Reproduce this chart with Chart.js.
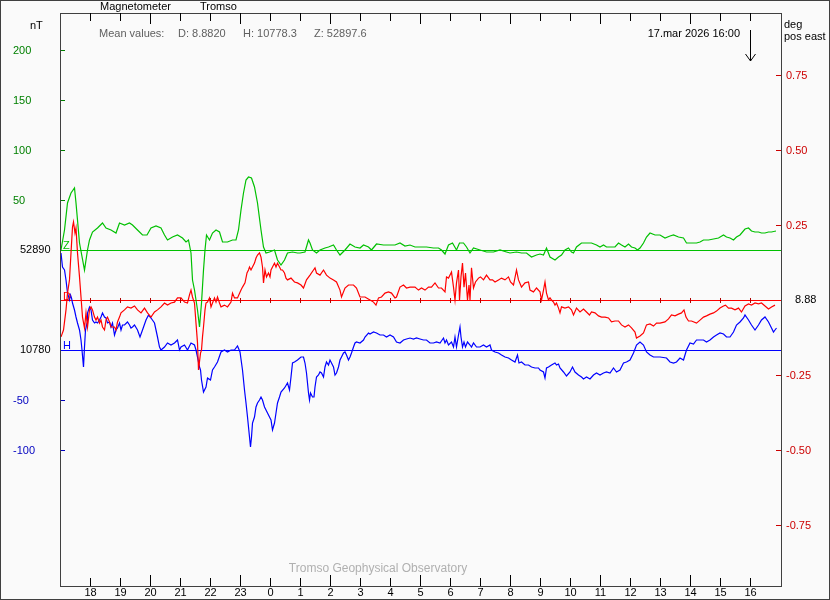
<!DOCTYPE html>
<html>
<head>
<meta charset="utf-8">
<script src="https://cdn.jsdelivr.net/npm/chart.js@4.4.1/dist/chart.umd.min.js"></script>
<style>
  html, body { margin: 0; padding: 0; background: #fafafa; }
  canvas { display: block; }
</style>
</head>
<body>
<canvas id="mag" width="830" height="600"></canvas>
<script>
// --- data: time = minutes after 16 Mar 17:00, Z/H = nT from baseline, D = deg from baseline ---
const zTime = [
  2, 9, 15, 22, 29, 32, 35, 39, 49, 55,
  59, 65, 75, 85, 92, 102, 112, 119, 129, 139,
  145, 155, 165, 174, 182, 192, 202, 209, 215, 225,
  235, 245, 252, 257, 262, 265, 269, 275, 279, 283,
  287, 290, 293, 299, 305, 312, 319, 325, 335, 345,
  352, 357, 362, 367, 372, 377, 383, 389, 395, 402,
  407, 412, 419, 429, 435, 442, 449, 455, 465, 475,
  480, 490, 497, 500, 505, 513, 520, 530, 537, 547,
  553, 560, 570, 580, 590, 600, 607, 617, 623, 633,
  647, 660, 670, 680, 690, 700, 710, 720, 733, 747,
  757, 763, 770, 777, 785, 793, 799, 807, 813, 820,
  827, 840, 853, 867, 880, 893, 900, 913, 923, 933,
  943, 953, 960, 967, 973, 980, 990, 997, 1003, 1010,
  1017, 1023, 1027, 1033, 1043, 1053, 1063, 1073, 1080, 1087,
  1093, 1103, 1110, 1117, 1123, 1130, 1137, 1143, 1150, 1155,
  1160, 1167, 1173, 1180, 1190, 1200, 1210, 1220, 1227, 1237,
  1247, 1253, 1263, 1273, 1280, 1287, 1297, 1307, 1317, 1327,
  1333, 1340, 1347, 1353, 1360, 1370, 1377, 1383, 1390, 1397,
  1403, 1410, 1417, 1423, 1432
];
const zVal = [
  0, 20, 47, 57, 62, 47, 30, 7, -20, 0,
  10, 18, 22, 27, 22, 20, 17, 27, 25, 27,
  25, 20, 15, 15, 22, 24, 22, 15, 10, 13,
  15, 12, 8, 10, -3, -30, -40, -60, -77, -53,
  -20, 0, 15, 10, 17, 20, 18, 8, 8, 10,
  10, 20, 40, 57, 70, 73, 72, 63, 47, 20,
  3, -3, -2, 0, -10, -15, -10, -3, -2, -3,
  -3, -2, 10, 7, 0, -3, 0, 2, 3, 5,
  0, -5, 0, 6, 3, 2, 5, 3, 0, 6,
  5, 5, 5, 7, 4, 5, 3, 3, 3, 2,
  2, 0, -4, 5, 7, 0, 7, 7, 3, -3,
  2, 0, -2, -2, 0, -2, -3, -2, -3, -3,
  -7, -5, -4, -5, 2, -7, -10, -7, -5, 0,
  2, -2, -3, 3, 7, 7, 7, 5, 3, 5,
  3, 3, 3, 7, 5, 3, 6, 3, 2, 0,
  2, 7, 13, 17, 15, 15, 12, 14, 15, 13,
  12, 7, 7, 7, 8, 10, 10, 11, 12, 15,
  13, 12, 10, 13, 15, 21, 22, 19, 18, 18,
  17, 17, 18, 18, 19
];

const dTime = [
  2, 7, 12, 15, 19, 22, 25, 27, 30, 32,
  35, 39, 42, 45, 49, 52, 55, 59, 62, 65,
  69, 72, 75, 79, 82, 85, 89, 92, 95, 99,
  102, 109, 112, 115, 119, 122, 129, 135, 142, 149,
  155, 162, 169, 175, 182, 189, 195, 202, 209, 215,
  222, 229, 235, 242, 249, 255, 259, 262, 265, 269,
  272, 275, 277, 281, 283, 285, 287, 290, 292, 295,
  299, 302, 305, 309, 312, 315, 319, 322, 329, 335,
  342, 345, 349, 355, 362, 365, 370, 374, 377, 379,
  382, 385, 389, 392, 395, 399, 402, 405, 407, 410,
  413, 417, 420, 422, 425, 429, 432, 435, 439, 442,
  445, 449, 452, 455, 462, 469, 475, 482, 487, 493,
  500, 507, 510, 513, 520, 527, 533, 540, 547, 553,
  560, 563, 570, 577, 587, 593, 600, 610, 620, 627,
  632, 637, 643, 650, 657, 663, 670, 673, 680, 687,
  693, 700, 710, 717, 723, 730, 737, 743, 750, 757,
  763, 770, 773, 777, 783, 787, 790, 793, 797, 799,
  802, 805, 808, 811, 815, 818, 820, 823, 827, 831,
  837, 841, 847, 853, 860, 865, 870, 877, 883, 890,
  897, 901, 907, 913, 917, 923, 930, 937, 940, 947,
  953, 960, 963, 967, 970, 973, 977, 980, 983, 987,
  990, 993, 997, 1000, 1003, 1010, 1017, 1023, 1027, 1033,
  1040, 1047, 1053, 1059, 1063, 1070, 1077, 1083, 1090, 1097,
  1103, 1110, 1117, 1123, 1130, 1137, 1143, 1150, 1153, 1160,
  1167, 1173, 1180, 1187, 1193, 1200, 1210, 1217, 1223, 1230,
  1237, 1243, 1248, 1252, 1257, 1263, 1273, 1280, 1287, 1293,
  1300, 1307, 1313, 1320, 1327, 1331, 1337, 1343, 1350, 1357,
  1363, 1370, 1377, 1383, 1390, 1397, 1403, 1410, 1417, 1423,
  1430
];
const dVal = [
  -0.123, -0.100, -0.033, 0.023, 0.067, 0.157, 0.243, 0.260, 0.223, 0.240,
  0.157, 0.077, 0.010, -0.057, -0.093, -0.043, -0.090, -0.033, -0.023, -0.033,
  -0.057, -0.067, -0.057, -0.077, -0.067, -0.090, -0.100, -0.067, -0.057, -0.073,
  -0.090, -0.090, -0.100, -0.073, -0.057, -0.043, -0.033, -0.023, -0.027, -0.020,
  -0.033, -0.043, -0.027, -0.043, -0.057, -0.040, -0.033, -0.023, -0.010, -0.017,
  -0.010, -0.007, 0.007, 0.007, -0.007, -0.010, 0.017, 0.033, 0.010, -0.010,
  -0.077, -0.143, -0.233, -0.177, -0.167, -0.123, -0.090, -0.033, -0.010, -0.007,
  0.007, -0.023, -0.010, 0.007, -0.007, 0.010, -0.010, -0.023, -0.017, -0.023,
  -0.007, 0.023, 0.007, 0.007, 0.033, 0.043, 0.057, 0.090, 0.100, 0.110,
  0.100, 0.110, 0.123, 0.140, 0.150, 0.157, 0.143, 0.110, 0.057, 0.100,
  0.077, 0.090, 0.077, 0.100, 0.110, 0.123, 0.110, 0.123, 0.110, 0.100,
  0.100, 0.090, 0.073, 0.067, 0.073, 0.060, 0.057, 0.050, 0.040, 0.067,
  0.083, 0.100, 0.107, 0.090, 0.083, 0.100, 0.083, 0.073, 0.067, 0.060,
  0.033, 0.010, 0.040, 0.050, 0.050, 0.040, 0.010, 0.010, 0.000, -0.007,
  -0.017, 0.007, 0.010, 0.023, 0.027, 0.023, 0.007, 0.010, 0.043, 0.050,
  0.040, 0.043, 0.043, 0.033, 0.040, 0.033, 0.043, 0.043, 0.057, 0.040,
  0.040, 0.027, 0.077, 0.073, 0.093, 0.043, 0.000, 0.057, 0.100, 0.000,
  0.077, 0.123, 0.043, 0.090, 0.000, 0.050, 0.000, 0.107, 0.040, 0.060,
  0.073, 0.077, 0.067, 0.083, 0.067, 0.067, 0.060, 0.067, 0.073, 0.067,
  0.077, 0.060, 0.050, 0.100, 0.067, 0.043, 0.057, 0.060, 0.033, 0.027,
  0.040, 0.027, 0.000, 0.033, 0.060, 0.023, 0.000, 0.007, 0.000, -0.007,
  -0.017, -0.010, -0.027, -0.043, -0.023, -0.027, -0.023, -0.033, -0.050, -0.027,
  -0.040, -0.030, -0.040, -0.050, -0.040, -0.043, -0.053, -0.057, -0.057, -0.060,
  -0.073, -0.070, -0.070, -0.083, -0.090, -0.083, -0.093, -0.107, -0.127, -0.120,
  -0.110, -0.083, -0.080, -0.087, -0.077, -0.077, -0.073, -0.063, -0.050, -0.053,
  -0.047, -0.043, -0.033, -0.057, -0.070, -0.070, -0.077, -0.067, -0.057, -0.053,
  -0.047, -0.043, -0.037, -0.027, -0.020, -0.017, -0.027, -0.027, -0.033, -0.027,
  -0.040, -0.020, -0.013, -0.017, -0.010, -0.013, -0.010, -0.020, -0.030, -0.023,
  -0.017
];

const hTime = [
  2, 5, 9, 12, 15, 19, 21, 23, 25, 29,
  32, 35, 39, 42, 44, 47, 49, 51, 54, 55,
  59, 62, 65, 69, 72, 75, 79, 82, 85, 89,
  92, 95, 99, 102, 105, 109, 112, 115, 119, 122,
  125, 129, 135, 139, 142, 145, 149, 155, 160, 165,
  172, 177, 182, 189, 192, 195, 199, 202, 209, 215,
  222, 229, 235, 239, 242, 249, 255, 262, 269, 272,
  275, 279, 281, 283, 287, 292, 295, 301, 305, 309,
  315, 322, 329, 335, 342, 349, 355, 360, 365, 369,
  372, 375, 379, 381, 383, 385, 389, 392, 395, 399,
  402, 405, 409, 412, 415, 419, 422, 425, 429, 432,
  435, 439, 442, 449, 455, 459, 462, 465, 469, 475,
  482, 487, 490, 493, 497, 499, 501, 505, 508, 510,
  513, 517, 520, 523, 527, 530, 533, 537, 540, 543,
  547, 550, 553, 557, 560, 563, 567, 570, 573, 577,
  580, 583, 587, 590, 593, 600, 607, 610, 617, 620,
  627, 633, 640, 647, 653, 660, 667, 673, 680, 687,
  693, 700, 707, 713, 720, 727, 733, 740, 747, 753,
  760, 767, 770, 773, 777, 783, 787, 790, 793, 797,
  800, 802, 805, 808, 811, 815, 820, 823, 827, 833,
  840, 847, 853, 860, 863, 870, 877, 883, 890, 897,
  903, 910, 915, 918, 923, 930, 937, 943, 950, 957,
  960, 967, 970, 973, 977, 983, 990, 993, 997, 1000,
  1007, 1013, 1020, 1025, 1030, 1037, 1043, 1047, 1053, 1060,
  1067, 1073, 1080, 1087, 1093, 1100, 1107, 1113, 1120, 1127,
  1133, 1140, 1147, 1153, 1160, 1167, 1173, 1180, 1187, 1200,
  1213, 1220, 1227, 1233, 1240, 1247, 1250, 1253, 1260, 1267,
  1273, 1287, 1293, 1300, 1307, 1313, 1320, 1327, 1333, 1340,
  1347, 1353, 1360, 1367, 1370, 1377, 1383, 1390, 1397, 1403,
  1410, 1417, 1423, 1427, 1430, 1433
];
const hVal = [
  97, 83, 80, 70, 57, 50, 55, 52, 47, 40,
  33, 27, 20, 10, 0, -17, 3, 20, 27, 37,
  43, 40, 30, 27, 28, 27, 30, 33, 37, 33,
  32, 27, 28, 23, 27, 15, 20, 22, 27, 20,
  25, 25, 28, 25, 22, 23, 25, 20, 13, 20,
  30, 35, 32, 27, 20, 13, 3, 0, 3, 7,
  5, 7, 10, 0, 3, 5, 0, 7, 5, 0,
  -7, -17, -20, -30, -42, -37, -28, -30, -20, -17,
  -12, -2, 0, -2, 0, 0, 4, -2, -20, -40,
  -53, -67, -87, -97, -87, -73, -67, -57, -53, -50,
  -47, -50, -57, -60, -63, -67, -70, -80, -73, -63,
  -53, -47, -42, -38, -33, -40, -27, -13, -12, -10,
  -7, -7, -13, -23, -43, -50, -43, -47, -47, -37,
  -27, -25, -22, -23, -27, -17, -12, -15, -10, -13,
  -17, -25, -23, -17, -10, -7, -3, -2, -5, -10,
  -7, -3, 3, 7, 8, 7, 10, 13, 17, 16,
  18, 17, 15, 15, 13, 15, 13, 8, 7, 10,
  11, 12, 11, 12, 11, 10, 10, 7, 7, 8,
  7, 12, 7, 10, 5, 8, 3, 13, 3, 15,
  23, 13, 3, 8, 3, 8, 5, 3, 7, 3,
  3, 5, 3, 5, 0, -2, -3, -5, -7, -8,
  -10, -12, -5, -13, -12, -15, -15, -17, -18, -18,
  -20, -22, -28, -18, -17, -15, -13, -15, -14, -18,
  -22, -26, -22, -17, -22, -25, -27, -29, -27, -29,
  -25, -23, -25, -23, -22, -23, -18, -22, -20, -13,
  -12, -10, -3, 5, 8, 5, -2, -5, -7, -7,
  -8, -12, -13, -12, -8, -10, -5, 0, 7, 6,
  10, 10, 8, 10, 13, 15, 17, 16, 13, 13,
  18, 25, 28, 32, 35, 30, 25, 20, 25, 30,
  33, 28, 22, 18, 20, 22
];

// axis ticks / labels
const hourTicks  = [60, 120, 180, 240, 300, 360, 420, 480, 540, 600, 660, 720, 780, 840, 900, 960, 1020, 1080, 1140, 1200, 1260, 1320, 1380];
const hourLabels = ['18', '19', '20', '21', '22', '23', '0', '1', '2', '3', '4', '5', '6', '7', '8', '9', '10', '11', '12', '13', '14', '15', '16'];
const longHours  = ['20', '23', '2', '5', '8', '11', '14'];
const zTicks = [200, 150, 100, 50];
const hTicks = [-50, -100];
const dTicks = [0.75, 0.50, 0.25, -0.25, -0.50, -0.75];
const zBaseLabel = '52890';
const hBaseLabel = '10780';
const dBaseLabel = '8.88';

const FONT = '11px "Liberation Sans", Arial, sans-serif';
const GREEN = '#00c000', RED = '#ff0000', BLUE = '#0000ff';

const toPoints = (t, v) => t.map((m, i) => ({ x: m, y: v[i] }));

function txt(c, s, x, y, color, align) {
    c.fillStyle = color;
    c.textAlign = align || 'left';
    c.textBaseline = 'middle';
    c.fillText(s, x, y);
}

const magPlugin = {
    id: 'magFrame',
    beforeDraw(chart) {
        const c = chart.ctx;
        c.save();
        c.fillStyle = '#fafafa';
        c.fillRect(0, 0, chart.width, chart.height);
        c.restore();
    },
    beforeDatasetsDraw(chart) {
        const { ctx: c, chartArea: a, scales: s } = chart;
        c.save();
        c.lineWidth = 1;
        // baselines
        [['yZ', GREEN], ['yD', RED], ['yH', BLUE]].forEach(([id, col]) => {
            const y = Math.round(s[id].getPixelForValue(0)) + 0.5;
            c.strokeStyle = col;
            c.beginPath(); c.moveTo(a.left, y); c.lineTo(a.right, y); c.stroke();
        });
        // hour marks on the D baseline
        const yd = Math.round(s.yD.getPixelForValue(0));
        c.strokeStyle = '#b00000';
        hourTicks.forEach(m => {
            const x = Math.round(s.x.getPixelForValue(m)) + 0.5;
            c.beginPath(); c.moveTo(x, yd - 2); c.lineTo(x, yd + 3); c.stroke();
        });
        c.restore();
    },
    afterDraw(chart) {
        const { ctx: c, chartArea: a, scales: s } = chart;
        c.save();
        c.lineWidth = 1;
        c.font = FONT;

        // outer border + plot frame
        c.strokeStyle = '#404040';
        c.strokeRect(0.5, 0.5, chart.width - 1, chart.height - 1);
        c.strokeRect(a.left - 0.5, a.top + 0.5, a.right - a.left + 1, a.bottom - a.top);

        // time ticks top and bottom
        c.strokeStyle = '#000';
        hourTicks.forEach((m, i) => {
            const x = Math.round(s.x.getPixelForValue(m)) + 0.5;
            const len = longHours.includes(hourLabels[i]) ? 11 : 8;
            c.beginPath();
            c.moveTo(x, a.top); c.lineTo(x, a.top + len);
            c.moveTo(x, a.bottom); c.lineTo(x, a.bottom - len);
            c.stroke();
            txt(c, hourLabels[i], x, a.bottom + 7, '#000', 'center');
        });

        // left axis: Z (green) and H (blue)
        zTicks.forEach(v => {
            const y = Math.round(s.yZ.getPixelForValue(v)) + 0.5;
            c.strokeStyle = '#008000';
            c.beginPath(); c.moveTo(a.left, y); c.lineTo(a.left + 4, y); c.stroke();
            txt(c, String(v), 13, y, '#008000');
        });
        hTicks.forEach(v => {
            const y = Math.round(s.yH.getPixelForValue(v)) + 0.5;
            c.strokeStyle = '#0000c0';
            c.beginPath(); c.moveTo(a.left, y); c.lineTo(a.left + 4, y); c.stroke();
            txt(c, String(v), 13, y, '#0000c0');
        });
        txt(c, zBaseLabel, 20, s.yZ.getPixelForValue(0), '#000');
        txt(c, hBaseLabel, 20, s.yH.getPixelForValue(0), '#000');

        // right axis: D (red)
        dTicks.forEach(v => {
            const y = Math.round(s.yD.getPixelForValue(v)) + 0.5;
            c.strokeStyle = '#cc0000';
            c.beginPath(); c.moveTo(a.right - 5, y); c.lineTo(a.right, y); c.stroke();
            txt(c, v.toFixed(2), a.right + 5, y, '#cc0000');
        });
        txt(c, dBaseLabel, a.right + 14, s.yD.getPixelForValue(0), '#000');

        // component letters on the baselines
        c.textBaseline = 'alphabetic';
        c.textAlign = 'left';
        c.fillStyle = GREEN; c.fillText('Z', a.left + 2, s.yZ.getPixelForValue(0) - 1);
        c.fillStyle = RED;   c.fillText('D', a.left + 2, s.yD.getPixelForValue(0));
        c.fillStyle = BLUE;  c.fillText('H', a.left + 2, s.yH.getPixelForValue(0) - 1);

        // header texts
        txt(c, 'Magnetometer', 100, 7, '#000');
        txt(c, 'Tromso', 200, 7, '#000');
        txt(c, 'nT', 30, 26, '#000');
        txt(c, 'deg', 784, 25, '#000');
        txt(c, 'pos east', 784, 37, '#000');
        txt(c, 'Mean values:', 99, 34, '#606060');
        txt(c, 'D: 8.8820', 178, 34, '#606060');
        txt(c, 'H: 10778.3', 243, 34, '#606060');
        txt(c, 'Z: 52897.6', 314, 34, '#606060');
        txt(c, '17.mar 2026 16:00', 740, 34, '#000', 'right');
        c.font = '12px "Liberation Sans", Arial, sans-serif';
        txt(c, 'Tromso Geophysical Observatory', 378, 569, '#b0b0b0', 'center');

        // arrow at the current time
        const ax = Math.round(s.x.getPixelForValue(1380)) + 0.5;
        c.strokeStyle = '#000';
        c.beginPath();
        c.moveTo(ax, 30); c.lineTo(ax, 61);
        c.moveTo(ax - 5, 54); c.lineTo(ax, 61); c.lineTo(ax + 5, 54);
        c.stroke();
        c.restore();
    }
};

new Chart(document.getElementById('mag').getContext('2d'), {
    type: 'line',
    data: {
        datasets: [
            { label: 'Z', data: toPoints(zTime, zVal), yAxisID: 'yZ', borderColor: GREEN },
            { label: 'D', data: toPoints(dTime, dVal), yAxisID: 'yD', borderColor: RED },
            { label: 'H', data: toPoints(hTime, hVal), yAxisID: 'yH', borderColor: BLUE }
        ]
    },
    options: {
        responsive: false,
        animation: false,
        events: [],
        layout: { padding: { left: 61, right: 49, top: 13, bottom: 14 } },
        elements: { point: { radius: 0 }, line: { borderWidth: 1.2, tension: 0 } },
        plugins: { legend: { display: false }, tooltip: { enabled: false } },
        scales: {
            x:  { type: 'linear', min: 2, max: 1442, display: false },
            yZ: { type: 'linear', min: -336, max: 237, display: false },
            yH: { type: 'linear', min: -236, max: 337, display: false },
            yD: { type: 'linear', min: -0.953333, max: 0.956667, display: false }
        }
    },
    plugins: [magPlugin]
});
</script>
</body>
</html>
